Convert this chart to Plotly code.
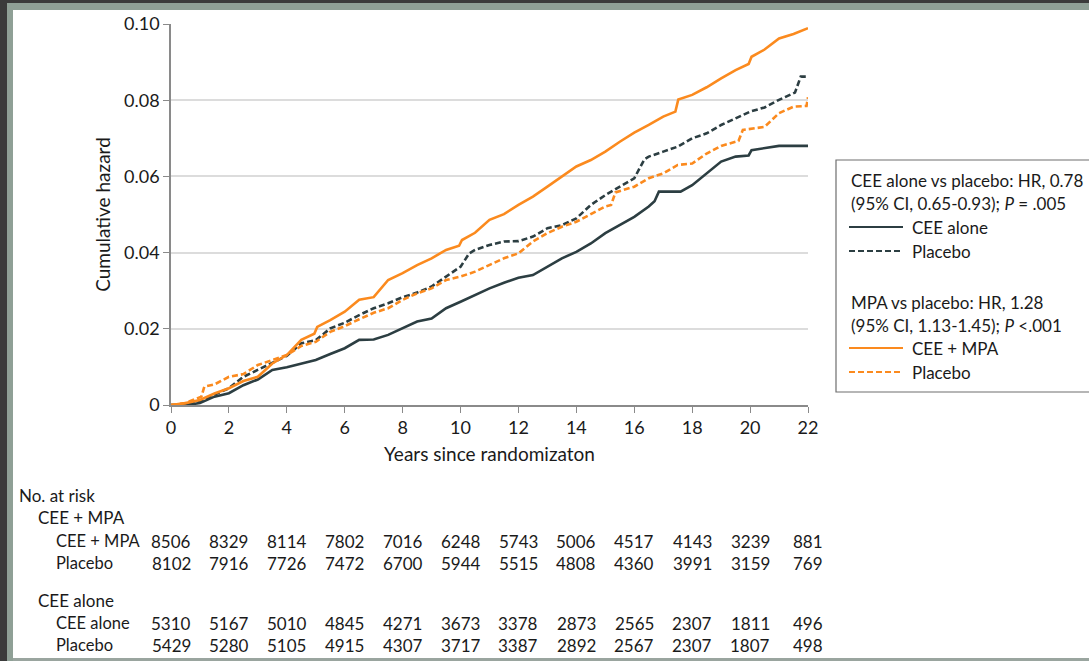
import plotly.graph_objects as go

# ---- data -------------------------------------------------------------
cee_mpa_years = [0, 0.5, 1, 1.5, 2, 2.5, 3, 3.5, 4, 4.5, 4.95, 5.05, 5.5, 6, 6.5,
                 7, 7.5, 8, 8.5, 9, 9.5, 9.95, 10.05, 10.5, 11, 11.5, 12, 12.5,
                 13, 13.5, 14, 14.5, 15, 15.5, 16, 16.5, 17, 17.42, 17.52, 18,
                 18.5, 19, 19.5, 19.95, 20.05, 20.5, 21, 21.5, 22]
cee_mpa = [0, 0.0005, 0.0013, 0.003, 0.0044, 0.0063, 0.0074, 0.0109, 0.0131,
           0.0171, 0.0187, 0.0205, 0.0223, 0.0245, 0.0276, 0.0283, 0.0328,
           0.0346, 0.0367, 0.0385, 0.0407, 0.0418, 0.0433, 0.0452, 0.0486,
           0.0501, 0.0525, 0.0547, 0.0573, 0.0599, 0.0626, 0.0643, 0.0665,
           0.0691, 0.0715, 0.0735, 0.0757, 0.0770, 0.0802, 0.0814, 0.0834,
           0.0857, 0.0879, 0.0895, 0.0914, 0.0933, 0.0962, 0.0974, 0.0989]

placebo_mpa_years = [0, 0.5, 1.05, 1.15, 1.5, 2, 2.5, 3, 3.5, 4, 4.5, 5, 5.5, 6,
                     6.5, 7, 7.5, 8, 8.5, 9, 9.5, 10, 10.5, 11, 11.5, 12, 12.5,
                     13, 13.5, 14, 14.5, 15, 15.2, 15.35, 16, 16.5, 17, 17.5, 18,
                     18.5, 19, 19.6, 19.75, 20.5, 21, 21.5, 21.95, 22]
placebo_mpa = [0, 0.0005, 0.0022, 0.0048, 0.0054, 0.0074, 0.0081, 0.0105, 0.0118,
               0.0131, 0.0155, 0.0166, 0.0192, 0.0207, 0.0225, 0.0242, 0.0254,
               0.0276, 0.0293, 0.0306, 0.0328, 0.0337, 0.035, 0.0367, 0.0385,
               0.0398, 0.0429, 0.0451, 0.0468, 0.0481, 0.0501, 0.0521, 0.0525,
               0.0558, 0.0573, 0.0595, 0.0608, 0.063, 0.0634, 0.066, 0.068,
               0.0693, 0.0722, 0.073, 0.0766, 0.0783, 0.0785, 0.0808]

placebo_cee_years = [0, 0.5, 1, 1.5, 2, 2.5, 3, 3.5, 4, 4.5, 5, 5.5, 6, 6.5, 7,
                     7.5, 8, 8.5, 9, 9.5, 10, 10.3, 10.5, 11, 11.5, 12, 12.5, 13,
                     13.5, 14, 14.5, 15, 15.5, 16, 16.35, 16.5, 17, 17.5, 18,
                     18.5, 19, 19.5, 20, 20.5, 21, 21.55, 21.75, 22]
placebo_cee = [0, 0, 0.001, 0.0026, 0.0044, 0.0074, 0.0092, 0.0111, 0.0129,
               0.0162, 0.017, 0.0201, 0.0216, 0.0236, 0.0254, 0.0267, 0.0283,
               0.0295, 0.0311, 0.0337, 0.0363, 0.0398, 0.0407, 0.042, 0.0429,
               0.043, 0.0442, 0.0464, 0.0472, 0.049, 0.0525, 0.0551, 0.0573,
               0.0595, 0.0645, 0.0652, 0.0665, 0.0678, 0.07, 0.0713, 0.0735,
               0.0752, 0.077, 0.0781, 0.0801, 0.082, 0.0862, 0.0862]

cee_alone_years = [0, 0.5, 1, 1.5, 2, 2.5, 3, 3.5, 4, 4.5, 5, 5.5, 6, 6.5, 7,
                   7.5, 8, 8.5, 9, 9.5, 10, 10.5, 11, 11.5, 12, 12.5, 13, 13.5,
                   14, 14.5, 15, 15.5, 16, 16.5, 16.7, 16.85, 17.6, 18, 18.5, 19,
                   19.5, 19.95, 20.05, 20.5, 21, 22]
cee_alone = [0, 0, 0.0005, 0.0022, 0.0031, 0.0052, 0.0067, 0.0092, 0.0099,
             0.0109, 0.0118, 0.0134, 0.0149, 0.0171, 0.0172, 0.0184, 0.0201,
             0.0219, 0.0227, 0.0254, 0.0271, 0.0289, 0.0306, 0.0321, 0.0334,
             0.0341, 0.0363, 0.0385, 0.0402, 0.0424, 0.0451, 0.0472, 0.0494,
             0.0521, 0.0535, 0.056, 0.056, 0.0577, 0.0608, 0.0639, 0.0652,
             0.0655, 0.0669, 0.0674, 0.068, 0.068]

x_ticks = [0, 2, 4, 6, 8, 10, 12, 14, 16, 18, 20, 22]
y_ticks = [0, 0.02, 0.04, 0.06, 0.08, 0.10]
y_tick_text = ["0", "0.02", "0.04", "0.06", "0.08", "0.10"]

risk_groups = ["CEE + MPA", "CEE alone"]
risk_rows = [
    ["CEE + MPA", [8506, 8329, 8114, 7802, 7016, 6248, 5743, 5006, 4517, 4143, 3239, 881]],
    ["Placebo", [8102, 7916, 7726, 7472, 6700, 5944, 5515, 4808, 4360, 3991, 3159, 769]],
    ["CEE alone", [5310, 5167, 5010, 4845, 4271, 3673, 3378, 2873, 2565, 2307, 1811, 496]],
    ["Placebo", [5429, 5280, 5105, 4915, 4307, 3717, 3387, 2892, 2567, 2307, 1807, 498]],
]

legend_blocks = [
    ["CEE alone vs placebo: HR, 0.78", "(95% CI, 0.65-0.93); <i>P</i> = .005",
     "CEE alone", "Placebo"],
    ["MPA vs placebo: HR, 1.28", "(95% CI, 1.13-1.45); <i>P</i> <.001",
     "CEE + MPA", "Placebo"],
]

# ---- styling ----------------------------------------------------------
W, H = 1089, 661
PL, PR, PT, PB = 171, 808, 24, 405          # plot area in pixels
ORANGE = "#FB8A1E"
SLATE = "#2C3E42"
FONT = "Lato, 'Open Sans', sans-serif"
TXT = "#1a1a1a"
DASH = "6px,3px"


def px(x):
    return (x - PL) / (PR - PL)


def py(y):
    return (PB - y) / (PB - PT)


fig = go.Figure()

series = [
    (cee_alone_years, cee_alone, SLATE, "solid", "CEE alone"),
    (placebo_cee_years, placebo_cee, SLATE, DASH, "Placebo (CEE alone trial)"),
    (placebo_mpa_years, placebo_mpa, ORANGE, DASH, "Placebo (CEE + MPA trial)"),
    (cee_mpa_years, cee_mpa, ORANGE, "solid", "CEE + MPA"),
]
for xs, vals, col, dash, name in series:
    fig.add_trace(go.Scatter(
        x=xs, y=vals, mode="lines", name=name, showlegend=False,
        line=dict(color=col, width=2.6, dash=dash),
        hoverinfo="skip",
    ))

fig.update_layout(
    width=W, height=H, autosize=False,
    margin=dict(l=PL, r=W - PR, t=PT, b=H - PB, pad=0),
    paper_bgcolor="white", plot_bgcolor="white",
    font=dict(family=FONT, size=17, color=TXT),
    showlegend=False,
    xaxis=dict(
        range=[0, 22], tickvals=x_ticks, ticks="outside", ticklen=6,
        tickcolor="#8a8a8a", showline=True, linecolor="#8a8a8a", linewidth=1.5,
        showgrid=False, zeroline=False, tickfont=dict(size=18, color=TXT),
        title=dict(text="Years since randomizaton", font=dict(size=19), standoff=10),
    ),
    yaxis=dict(
        range=[0, 0.1], tickvals=y_ticks, ticktext=y_tick_text, ticks="outside",
        ticklen=6, tickcolor="#8a8a8a", showline=True, linecolor="#8a8a8a",
        linewidth=1.5, showgrid=True, gridcolor="#dcdcdc", gridwidth=1.5,
        zeroline=False, tickfont=dict(size=18, color=TXT),
        title=dict(text="Cumulative hazard", font=dict(size=19), standoff=8),
    ),
)

shapes = []
annotations = []

# window frame around the figure
shapes += [
    dict(type="rect", xref="paper", yref="paper", x0=px(0), x1=px(7), y0=py(H), y1=py(0),
         fillcolor="#3b3b3b", line=dict(width=0), layer="below"),
    dict(type="rect", xref="paper", yref="paper", x0=px(0), x1=px(W), y0=py(3), y1=py(0),
         fillcolor="#3b3b3b", line=dict(width=0), layer="below"),
    dict(type="rect", xref="paper", yref="paper", x0=px(7), x1=px(13), y0=py(H), y1=py(3),
         fillcolor="#8fa096", line=dict(width=0), layer="below"),
    dict(type="rect", xref="paper", yref="paper", x0=px(7), x1=px(W), y0=py(10), y1=py(3),
         fillcolor="#8fa096", line=dict(width=0), layer="below"),
    dict(type="rect", xref="paper", yref="paper", x0=px(13), x1=px(W), y0=py(H), y1=py(658),
         fillcolor="#9aa59f", line=dict(width=0), layer="below"),
]

# legend box
shapes.append(dict(type="rect", xref="paper", yref="paper",
                   x0=px(836), x1=px(W + 5), y0=py(392), y1=py(160),
                   line=dict(color="#6e6e6e", width=1.2), fillcolor="rgba(0,0,0,0)"))

legend_y = [[180, 203, 227, 251], [302, 325, 348, 372]]
legend_styles = [[(SLATE, "solid"), (SLATE, DASH)], [(ORANGE, "solid"), (ORANGE, DASH)]]
for block, ys, styles in zip(legend_blocks, legend_y, legend_styles):
    for text, y in zip(block[:2], ys[:2]):
        annotations.append(dict(xref="paper", yref="paper", x=px(849), y=py(y),
                                text=text, showarrow=False, xanchor="left",
                                yanchor="middle", font=dict(size=17, color=TXT)))
    for text, y, (col, dash) in zip(block[2:], ys[2:], styles):
        shapes.append(dict(type="line", xref="paper", yref="paper",
                           x0=px(849), x1=px(903), y0=py(y), y1=py(y),
                           line=dict(color=col, width=2.2, dash=dash)))
        annotations.append(dict(xref="paper", yref="paper", x=px(910), y=py(y),
                                text=text, showarrow=False, xanchor="left",
                                yanchor="middle", font=dict(size=17, color=TXT)))

# number-at-risk table
annotations.append(dict(xref="paper", yref="paper", x=px(17), y=py(495),
                        text="No. at risk", showarrow=False, xanchor="left",
                        yanchor="middle", font=dict(size=17, color=TXT)))
group_y = [517, 600]
row_y = [[541, 563], [623, 645]]
for g, (gname, gy) in enumerate(zip(risk_groups, group_y)):
    annotations.append(dict(xref="paper", yref="paper", x=px(36), y=py(gy),
                            text=gname, showarrow=False, xanchor="left",
                            yanchor="middle", font=dict(size=17, color=TXT)))
    for r in range(2):
        label, counts = risk_rows[2 * g + r]
        yy = py(row_y[g][r])
        annotations.append(dict(xref="paper", yref="paper", x=px(54), y=yy,
                                text=label, showarrow=False, xanchor="left",
                                yanchor="middle", font=dict(size=16.5, color=TXT)))
        for t, n in zip(x_ticks, counts):
            annotations.append(dict(xref="x", yref="paper", x=t, y=yy,
                                    text=str(n), showarrow=False, xanchor="center",
                                    yanchor="middle", font=dict(size=17, color=TXT)))

fig.update_layout(shapes=shapes, annotations=annotations)
fig.write_html("out.html")
